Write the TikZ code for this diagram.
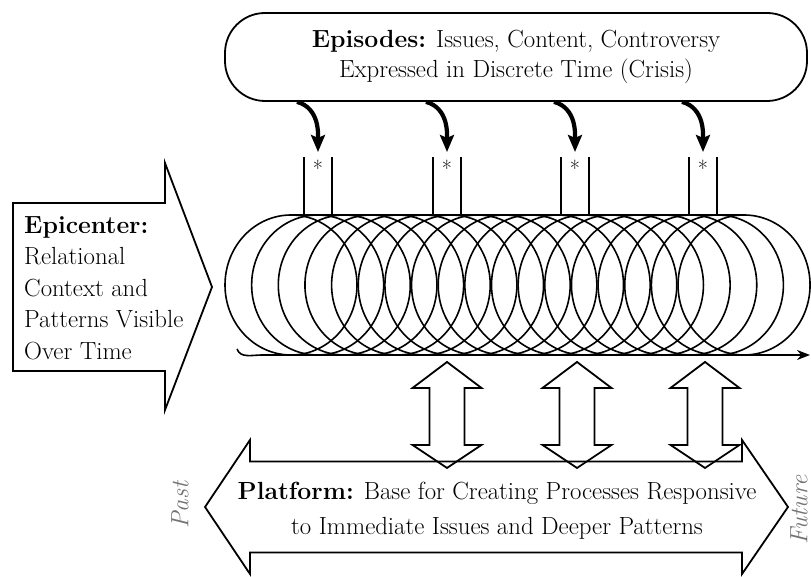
\documentclass[tikz,border=0pt]{standalone}
\usepackage{tikz}
\usetikzlibrary{arrows.meta, calc}
\tikzset {
    >={Stealth[length=17pt, width=14pt, inset=3pt]},
    outline/.style={line width=1.8pt},
    coil/.style={line width=1.6pt},
    txt/.style={inner sep=0pt, font=\fontsize{24.8}{30}\selectfont},
    hint/.style={inner sep=0pt, rotate=90, text=black!55, font=\fontsize{25}{26}\selectfont\itshape}
}
\begin{document}
\begin{tikzpicture}[x=1pt, y=1pt]
                            \useasboundingbox (0,0) rectangle (811,577);
                            \clip (0,0) rectangle (811,577);

                            \node[draw, outline, txt, align=center, rounded corners=40pt, minimum width=582pt, minimum height=88pt] (episodes) at (516,520)
                                {\textbf{Episodes:} Issues, Content, Controversy\\Expressed in Discrete Time (Crisis)};

                            \foreach \x [count=\i] in {318,447,575,703} {
                                \node[inner sep=0pt, anchor=north, font=\fontsize{22}{22}\selectfont] (star\i) at (\x,417) {*};
                                \draw[outline] (\x-14,420) -- (\x-14,362);
                                \draw[outline] (\x+14,420) -- (\x+14,362);
                                \draw[->, line width=4.2pt, shorten >=8pt] ($(episodes.south -| star\i.north)+(-21,0)$) to[out=-15, in=90] (star\i.north);
                            }

                            \foreach \k in {0,...,17}
                                \draw[coil] (291+26.65*\k,292) ellipse [x radius=66pt, y radius=70pt];
                            \draw[coil] (291,362) -- (744,362);
                            \draw[coil, -{Stealth[length=13pt, width=10pt]}] (237,228) to[out=-70, in=180] (262,222) -- (810,222);

                            \draw[outline] (13,374) -- (165,374) -- (165,414) -- (212,290) -- (165,167) -- (165,206) -- (13,206) -- cycle;
                            \node[txt, align=left, anchor=west, font=\fontsize{24.8}{31.5}\selectfont] (epicenter) at (24,289)
                                {\textbf{Epicenter:}\\Relational\\Context and\\Patterns Visible\\Over Time};

                            \foreach \c in {447,577,705}
                                \draw[outline] (\c-17.5,189) -- (\c-34.5,189) -- (\c,215) -- (\c+34.5,189) -- (\c+17.5,189) -- (\c+17.5,132)
                                    -- (\c+34.5,132) -- (\c,109) -- (\c-34.5,132) -- (\c-17.5,132) -- cycle;

                            \draw[outline] (250,115.5) -- (742,115.5) -- (742,137) -- (788,70) -- (742,3) -- (742,24.5) -- (250,24.5)
                                -- (250,3) -- (205,70) -- (250,137) -- cycle;
                            \node[txt, align=center, font=\fontsize{24.8}{35}\selectfont] (platform) at (497,66)
                                {\textbf{Platform:} Base for Creating Processes Responsive\\to Immediate Issues and Deeper Patterns};

                            \node[hint] (past) at (180,72) {Past};
                            \node[hint] (future) at (799,67) {Future};
                        \end{tikzpicture}
\end{document}
